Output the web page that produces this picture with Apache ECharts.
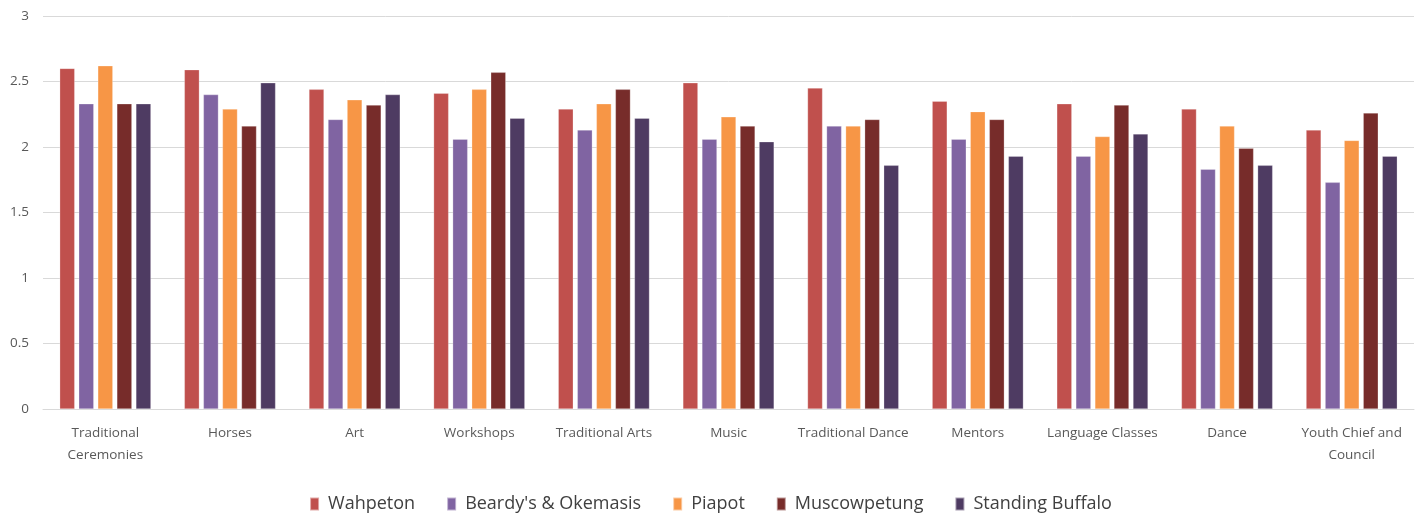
<!DOCTYPE html>
<html>
<head>
<meta charset="utf-8">
<script src="https://cdn.jsdelivr.net/npm/echarts@6/dist/echarts.min.js"></script>
<style>
  html, body { margin: 0; padding: 0; background: #fff; }
  #chart { width: 1421px; height: 517px; }
</style>
</head>
<body>
<div id="chart"></div>
<script>
// Activity categories along the x axis
const categories = [
  'Traditional\nCeremonies', 'Horses', 'Art', 'Workshops', 'Traditional Arts',
  'Music', 'Traditional Dance', 'Mentors', 'Language Classes', 'Dance',
  'Youth Chief and\nCouncil'
];

// Mean scores per community
const wahpeton     = [2.60, 2.59, 2.44, 2.41, 2.29, 2.49, 2.45, 2.35, 2.33, 2.29, 2.13];
const beardys      = [2.33, 2.40, 2.21, 2.06, 2.13, 2.06, 2.16, 2.06, 1.93, 1.83, 1.73];
const piapot       = [2.62, 2.29, 2.36, 2.44, 2.33, 2.23, 2.16, 2.27, 2.08, 2.16, 2.05];
const muscowpetung = [2.33, 2.16, 2.32, 2.57, 2.44, 2.16, 2.21, 2.21, 2.32, 1.99, 2.26];
const standingBuff = [2.33, 2.49, 2.40, 2.22, 2.22, 2.04, 1.86, 1.93, 2.10, 1.86, 1.93];

const seriesDefs = [
  { name: 'Wahpeton', data: wahpeton, color: '#C0504D' },
  { name: "Beardy's & Okemasis", data: beardys, color: '#8064A2' },
  { name: 'Piapot', data: piapot, color: '#F79646' },
  { name: 'Muscowpetung', data: muscowpetung, color: '#772C2A' },
  { name: 'Standing Buffalo', data: standingBuff, color: '#4E3B62' }
];

const font = '"Liberation Sans Narrow", "Open Sans", "Liberation Sans", sans-serif';

const chart = echarts.init(document.getElementById('chart'), null, { renderer: 'canvas' });
chart.setOption({
  animation: false,
  backgroundColor: '#ffffff',
  grid: { left: 43, right: 7, top: 16, bottom: 108, containLabel: false },
  legend: {
    left: 'center',
    top: 490,
    itemWidth: 9,
    itemHeight: 13,
    itemGap: 31,
    icon: 'rect',
    textStyle: { fontFamily: font, fontSize: 18, color: '#404040', padding: [0, 0, 0, 4] },
    data: seriesDefs.map(s => s.name)
  },
  xAxis: {
    type: 'category',
    data: categories,
    axisTick: { show: false },
    axisLine: { lineStyle: { color: '#D9D9D9', width: 1 } },
    axisLabel: {
      interval: 0,
      margin: 13,
      fontFamily: font,
      fontSize: 13.5,
      lineHeight: 22,
      color: '#595959'
    }
  },
  yAxis: {
    type: 'value',
    min: 0,
    max: 3,
    interval: 0.5,
    axisLine: { show: false },
    axisTick: { show: false },
    splitLine: { lineStyle: { color: '#D9D9D9', width: 1 } },
    axisLabel: {
      margin: 14,
      fontFamily: font,
      fontSize: 13.5,
      color: '#595959'
    }
  },
  series: seriesDefs.map(s => ({
    name: s.name,
    type: 'bar',
    data: s.data,
    barWidth: 15,
    barGap: '27%',
    itemStyle: { color: s.color, borderColor: 'rgba(255,255,255,0.5)', borderWidth: 0.5 }
  }))
});
</script>
</body>
</html>
